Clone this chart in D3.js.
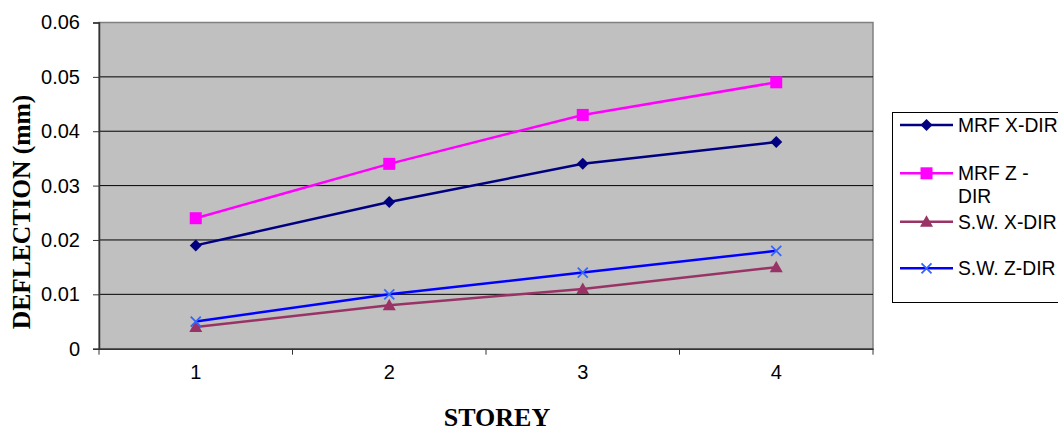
<!DOCTYPE html>
<html><head><meta charset="utf-8">
<script src="https://d3js.org/d3.v7.min.js"></script>
<style>body{margin:0;background:#fff}svg{display:block}</style>
</head><body>
<svg id="c" width="1058" height="430"></svg>
<script>
const categories = ["1","2","3","4"];
const mrfX = [0.019, 0.027, 0.034, 0.038];
const mrfZ = [0.024, 0.034, 0.043, 0.049];
const swX  = [0.004, 0.008, 0.011, 0.015];
const swZ  = [0.005, 0.010, 0.014, 0.018];
const yTicks = [0, 0.01, 0.02, 0.03, 0.04, 0.05, 0.06];
const seriesNames = ["MRF X-DIR", "MRF Z -|DIR", "S.W. X-DIR", "S.W. Z-DIR"];

const series = [
  {name: seriesNames[0], values: mrfX, color: "#000080", mcolor: "#000080", marker: "diamond"},
  {name: seriesNames[1], values: mrfZ, color: "#FF00FF", mcolor: "#FF00FF", marker: "square"},
  {name: seriesNames[2], values: swX,  color: "#993366", mcolor: "#993366", marker: "triangle"},
  {name: seriesNames[3], values: swZ,  color: "#0000FF", mcolor: "#3366FF", marker: "cross"}
];

const svg = d3.select("#c");
const L = 99, R = 873, T = 22.5, B = 348.7;
const x = d3.scaleBand().domain(categories).range([L, R]);
const y = d3.scaleLinear().domain([0, 0.06]).range([B, T]);

// plot area
svg.append("rect").attr("x", L).attr("y", T).attr("width", R - L).attr("height", B - T)
  .attr("fill", "#C0C0C0").attr("stroke", "#808080").attr("stroke-width", 1.5);

// gridlines
svg.append("g").selectAll("line").data(yTicks.filter(d => d > 0 && d < 0.06)).join("line")
  .attr("x1", L).attr("x2", R).attr("y1", d => y(d)).attr("y2", d => y(d))
  .attr("stroke", "#000").attr("stroke-width", 1);

// y axis
const yAxis = svg.append("g").attr("transform", `translate(${L},0)`)
  .call(d3.axisLeft(y).tickValues(yTicks).tickFormat(d => d === 0 ? "0" : d3.format(".2f")(d)).tickSize(6).tickPadding(13));
yAxis.select(".domain").attr("stroke", "#333").attr("stroke-width", 1.5);
yAxis.selectAll(".tick line").attr("stroke", "#333");
yAxis.selectAll("text").attr("font-family", "Liberation Sans, Arial, sans-serif").attr("font-size", 20).attr("fill", "#000");

// x axis
const xAxis = svg.append("g").attr("transform", `translate(0,${B})`)
  .call(d3.axisBottom(x).tickSize(0).tickPadding(16));
xAxis.select(".domain").attr("stroke", "#333").attr("stroke-width", 1.5);
xAxis.selectAll("text").attr("font-family", "Liberation Sans, Arial, sans-serif").attr("font-size", 20).attr("fill", "#000");
// category boundary ticks
const bounds = categories.map(c => x(c)).concat([R]);
svg.append("g").selectAll("line").data(bounds).join("line")
  .attr("x1", d => d).attr("x2", d => d).attr("y1", B).attr("y2", B + 6)
  .attr("stroke", "#333").attr("stroke-width", 1);

// axis titles
svg.append("text").attr("x", 497).attr("y", 425.5).attr("text-anchor", "middle")
  .attr("font-family", "Liberation Serif, Times New Roman, serif").attr("font-weight", "bold")
  .attr("font-size", 26).text("STOREY");
svg.append("text").attr("transform", "translate(29.5,212) rotate(-90)").attr("text-anchor", "middle")
  .attr("font-family", "Liberation Serif, Times New Roman, serif").attr("font-weight", "bold")
  .attr("font-size", 25.5).text("DEFLECTION (mm)");

function drawMarker(g, type, cx, cy, color) {
  if (type === "diamond") {
    g.append("path").attr("d", `M${cx},${cy-6}L${cx+6},${cy}L${cx},${cy+6}L${cx-6},${cy}Z`).attr("fill", color);
  } else if (type === "square") {
    g.append("rect").attr("x", cx - 6).attr("y", cy - 6).attr("width", 12).attr("height", 12).attr("fill", color);
  } else if (type === "triangle") {
    g.append("path").attr("d", `M${cx},${cy-6.5}L${cx+6.5},${cy+5}L${cx-6.5},${cy+5}Z`).attr("fill", color);
  } else if (type === "cross") {
    g.append("path").attr("d", `M${cx-5},${cy-5}L${cx+5},${cy+5}M${cx-5},${cy+5}L${cx+5},${cy-5}`)
      .attr("stroke", color).attr("stroke-width", 1.8).attr("fill", "none");
  }
}

const cx = c => x(c) + x.bandwidth() / 2;
const line = d3.line().x((d, i) => cx(categories[i])).y(d => y(d));
series.forEach(s => {
  const g = svg.append("g");
  g.append("path").attr("d", line(s.values)).attr("fill", "none").attr("stroke", s.color).attr("stroke-width", 2.5);
  s.values.forEach((v, i) => drawMarker(g, s.marker, cx(categories[i]), y(v), s.mcolor));
});

// legend
const lg = svg.append("g");
lg.append("rect").attr("x", 892.5).attr("y", 112.5).attr("width", 200).attr("height", 190)
  .attr("fill", "#fff").attr("stroke", "#000").attr("stroke-width", 1);
const rowY = [125, 173.3, 221.7, 268.3];
series.forEach((s, i) => {
  const yy = rowY[i];
  lg.append("line").attr("x1", 900).attr("x2", 953).attr("y1", yy).attr("y2", yy).attr("stroke", s.color).attr("stroke-width", 2.5);
  drawMarker(lg, s.marker, 926.5, yy, s.mcolor);
  const parts = s.name.split("|");
  const t = lg.append("text").attr("x", 958).attr("y", yy + 7)
    .attr("font-family", "Liberation Sans, Arial, sans-serif").attr("font-size", 19.3).attr("fill", "#000");
  parts.forEach((p, j) => t.append("tspan").attr("x", 958).attr("dy", j === 0 ? 0 : 22.5).text(p));
});
</script>
</body></html>
